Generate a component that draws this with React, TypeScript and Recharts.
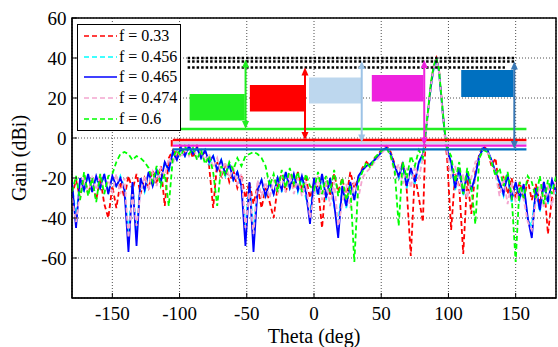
import React from 'react';
import {
  LineChart,
  Line,
  XAxis,
  YAxis,
  CartesianGrid,
  ReferenceLine,
  ReferenceArea,
  Legend,
} from 'recharts';

const FONT = "'Liberation Serif', 'Times New Roman', serif";

// Theta grid (deg)
const theta = [
  -180, -177, -174, -171, -168, -165, -162, -159, -156, -153,
  -150, -147, -144, -141, -138, -135, -132, -129, -126, -123,
  -120, -117, -114, -111, -108, -105, -102, -99, -96, -93,
  -90, -87, -84, -81, -78, -75, -72, -69, -66, -63,
  -60, -57, -54, -51, -48, -45, -42, -39, -36, -33,
  -30, -27, -24, -21, -18, -15, -12, -9, -6, -3,
  0, 3, 6, 9, 12, 15, 18, 21, 24, 27,
  30, 33, 36, 39, 42, 45, 48, 51, 54, 57,
  60, 63, 66, 69, 72, 75, 78,
  81, 83, 85, 87, 89, 91, 93, 95, 97, 99,
  102, 105, 108, 111, 114, 117, 120, 123, 126, 129,
  132, 135, 138, 141, 144, 147, 150, 153, 156, 159,
  162, 165, 168, 171, 174, 177, 180,
];

// Gain (dBi) per frequency
const gainF033 = [
  -29, -21, -30, -19, -28, -21, -31, -20, -33, -40,
  -24, -35, -22, -30, -19, -26, -18, -28, -20, -25,
  -16, -23, -14, -34, -10, -6, -9, -4, -8, -5,
  -10, -4, -9, -7, -14, -35, -12, -19, -14, -22,
  -16, -25, -19, -30, -22, -33, -24, -35, -25, -32,
  -40, -24, -18, -27, -19, -24, -17, -26, -20, -30,
  -22, -25, -45, -21, -29, -18, -27, -20, -30, -17,
  -25, -20, -15, -12, -14, -10, -8, -5, -4, -7,
  -13, -20, -12, -26, -59, -18, -30,
  -42, 1, 14, 27, 36, 40, 34, 19, 3, -10,
  -46, -18, -24, -58, -20, -38, -17, -8, -4, -6,
  -14, -10, -26, -19, -28, -20, -30, -22, -31, -21,
  -31, -23, -33, -22, -48, -30, -22,
];

const gainF0456 = [
  -23, -40, -21, -27, -19, -26, -20, -26, -19, -27,
  -20, -25, -19, -25, -48, -23, -47, -21, -27, -18,
  -24, -16, -23, -12, -17, -7, -11, -5, -9, -4,
  -8, -5, -10, -6, -13, -9, -16, -11, -19, -13,
  -21, -17, -25, -44, -23, -46, -26, -21, -30, -22,
  -28, -20, -27, -18, -25, -19, -27, -20, -30, -38,
  -21, -29, -19, -31, -21, -34, -42, -25, -35, -23,
  -31, -20, -16, -14, -13, -11, -9, -6, -5, -8,
  -14, -20, -13, -25, -16, -23, -13,
  -9, 2, 14, 26, 35, 40, 33, 18, 3, -6,
  -13, -26, -16, -29, -18, -27, -19, -9, -5, -6,
  -11, -17, -23, -29, -19, -32, -23, -31, -24, -41,
  -44, -26, -37, -23, -33, -22, -28,
];

const gainF0465 = [
  -22, -45, -20, -26, -18, -27, -19, -25, -18, -28,
  -19, -24, -20, -26, -57, -22, -54, -20, -26, -17,
  -24, -16, -22, -12, -16, -7, -11, -5, -9, -4,
  -8, -5, -10, -6, -12, -9, -16, -11, -18, -13,
  -21, -17, -24, -54, -22, -57, -26, -21, -29, -22,
  -28, -20, -26, -17, -25, -18, -26, -19, -27, -43,
  -20, -28, -18, -30, -20, -33, -50, -24, -34, -22,
  -31, -19, -16, -14, -13, -11, -9, -6, -5, -8,
  -14, -19, -13, -24, -15, -22, -12,
  -8, 2, 14, 26, 35, 40, 33, 18, 4, -6,
  -12, -25, -15, -28, -17, -26, -19, -9, -5, -6,
  -11, -17, -22, -28, -18, -31, -22, -30, -23, -40,
  -50, -25, -36, -22, -32, -21, -27,
];

const gainF0474 = [
  -30, -42, -27, -19, -28, -20, -26, -18, -27, -21,
  -27, -18, -28, -20, -50, -28, -44, -27, -19, -25,
  -17, -24, -15, -19, -10, -13, -6, -10, -5, -9,
  -4, -10, -6, -12, -8, -15, -10, -18, -12, -20,
  -15, -23, -18, -45, -27, -48, -21, -29, -22, -30,
  -21, -28, -19, -27, -18, -28, -20, -29, -22, -40,
  -29, -19, -31, -21, -34, -22, -44, -33, -23, -35,
  -22, -30, -20, -17, -15, -12, -10, -7, -5, -9,
  -18, -13, -23, -15, -25, -14, -20,
  -10, 2, 13, 26, 35, 40, 33, 17, 3, -7,
  -20, -14, -27, -18, -30, -20, -12, -10, -6, -6,
  -12, -18, -29, -20, -33, -22, -32, -24, -31, -42,
  -46, -32, -24, -35, -23, -34, -22,
];

const gainF06 = [
  -27, -19, -31, -17, -29, -20, -32, -18, -28, -19,
  -18, -12, -8, -7, -8, -11, -9, -10, -12, -15,
  -22, -14, -24, -18, -34, -10, -6, -9, -4, -8,
  -5, -11, -6, -13, -9, -17, -34, -14, -19, -12,
  -16, -10, -14, -9, -8, -7, -8, -10, -14, -24,
  -18, -27, -16, -25, -15, -23, -17, -27, -18, -24,
  -26, -17, -28, -19, -27, -16, -29, -20, -31, -24,
  -62, -22, -17, -12, -15, -10, -8, -6, -5, -9,
  -16, -44, -12, -20, -9, -14, -6,
  -10, 3, 15, 28, 36, 40, 34, 19, 5, -5,
  -9, -22, -12, -28, -15, -25, -43, -10, -6, -7,
  -12, -19, -15, -24, -17, -29, -62, -22, -30, -19,
  -22, -30, -19, -33, -21, -28, -19,
];

const seriesKeys = ['f033', 'f0456', 'f0465', 'f0474', 'f06'];
const seriesNames = ['f = 0.33', 'f = 0.456', 'f = 0.465', 'f = 0.474', 'f = 0.6'];
const seriesColors = ['#ff0000', '#00ffff', '#0000ff', '#f4a6cf', '#00ff00'];
const seriesDash = ['5 3', '5 3', '', '5 3', '5 3'];

const xTicks = [-150, -100, -50, 0, 50, 100, 150];
const yTicks = [-60, -40, -20, 0, 20, 40, 60];

// Annotation boxes
const boxThetaStart = [-92.5, -47.7, -3.7, 43, 109.5];
const boxThetaEnd = [-51.5, -6.7, 35.5, 81.4, 148.4];
const boxGainLow = [8.7, 13.2, 17.2, 18.2, 20.5];
const boxGainHigh = [22, 26.5, 30.3, 31.5, 34];
const boxColors = ['#22ee22', '#ff0000', '#bdd7ee', '#ee22dd', '#0070c0'];

// Double arrows
const arrowTheta = [-50.9, -6.7, 35.5, 82, 149];
const arrowTop = [39.3, 35.2, 38.5, 39, 38.2];
const arrowBottom = [4.5, -1, -2.3, -3.8, -5.5];
const arrowColors = ['#22ee22', '#ff0000', '#9dc3e6', '#ee22dd', '#3a78b5'];

// Level lines
const levelGain = [4.5, -1, -2.5, -3.8, -5.7];
const levelColors = ['#22ee22', '#ff0000', '#c9daf0', '#ee22dd', '#0070c0'];
const levelStart = -105;
const levelEnd = 158;

// Black dotted reference levels
const dottedGain = [40, 38.2, 35.2];
const dottedStart = -94;
const dottedEnd = [150, 150, 142];

const rows = theta.map((t, i) => ({
  theta: t,
  f033: gainF033[i],
  f0456: gainF0456[i],
  f0465: gainF0465[i],
  f0474: gainF0474[i],
  f06: gainF06[i],
}));

function makeArrow(color: string) {
  return (props: any) => {
    const { x1, y1, x2, y2 } = props;
    const top = Math.min(y1, y2);
    const bot = Math.max(y1, y2);
    const x = (x1 + x2) / 2;
    const h = 8;
    const w = 3.5;
    return (
      <g>
        <line x1={x} y1={top + h - 1} x2={x} y2={bot - h + 1} stroke={color} strokeWidth={2} />
        <polygon points={`${x},${top} ${x - w},${top + h} ${x + w},${top + h}`} fill={color} />
        <polygon points={`${x},${bot} ${x - w},${bot - h} ${x + w},${bot - h}`} fill={color} />
      </g>
    );
  };
}

const renderLegend = () => (
  <div
    style={{
      width: 104,
      height: 107,
      boxSizing: 'border-box',
      border: '1.5px solid #000',
      background: '#fff',
      fontFamily: FONT,
      fontSize: 16,
      color: '#000',
      paddingTop: 1,
    }}
  >
    {seriesNames.map((n, i) => (
      <div key={n} style={{ display: 'flex', alignItems: 'center', height: 20.6 }}>
        <svg width={36} height={6} style={{ marginLeft: 5, display: 'block' }}>
          <line
            x1={1}
            y1={3}
            x2={34}
            y2={3}
            stroke={seriesColors[i]}
            strokeWidth={1.6}
            strokeDasharray={seriesDash[i] || undefined}
          />
        </svg>
        <span style={{ lineHeight: '20px', whiteSpace: 'nowrap', fontFamily: FONT, fontSize: 16 }}>{n}</span>
      </div>
    ))}
  </div>
);

export default function App() {
  return (
    <div style={{ position: 'absolute', left: 0, top: 0, width: 558, height: 347, background: '#fff' }}>
      <LineChart width={558} height={347} data={rows} margin={{ top: 18, right: 2, left: 0, bottom: 0 }}>
        <CartesianGrid stroke="#222" strokeDasharray="1 2" strokeWidth={0.8} />
        <XAxis
          dataKey="theta"
          type="number"
          domain={[-180, 180]}
          ticks={xTicks}
          allowDataOverflow
          height={49}
          tickSize={-5}
          tickMargin={14}
          stroke="#000"
          tick={{ fill: '#000', fontSize: 19, fontFamily: FONT }}
          label={{ value: 'Theta (deg)', position: 'insideBottom', offset: 4, fill: '#000', fontSize: 20, fontFamily: FONT }}
        />
        <XAxis
          xAxisId="top"
          orientation="top"
          dataKey="theta"
          type="number"
          domain={[-180, 180]}
          ticks={xTicks}
          allowDataOverflow
          height={0}
          tickSize={-5}
          tick={false}
          stroke="#000"
        />
        <YAxis
          type="number"
          domain={[-80, 60]}
          ticks={yTicks}
          allowDataOverflow
          width={72}
          tickSize={-5}
          tickMargin={10.5}
          stroke="#000"
          tick={{ fill: '#000', fontSize: 19, fontFamily: FONT }}
          label={{
            value: 'Gain (dBi)',
            angle: -90,
            position: 'insideLeft',
            offset: 19,
            fill: '#000',
            fontSize: 20,
            fontFamily: FONT,
            style: { textAnchor: 'middle' },
          }}
        />
        <YAxis
          yAxisId="right"
          orientation="right"
          type="number"
          domain={[-80, 60]}
          ticks={yTicks}
          allowDataOverflow
          width={0}
          tickSize={-5}
          tick={false}
          stroke="#000"
        />
        {seriesKeys.map((k, i) => (
          <Line
            key={k}
            dataKey={k}
            name={seriesNames[i]}
            type="linear"
            stroke={seriesColors[i]}
            strokeWidth={1.8}
            strokeDasharray={seriesDash[i] || undefined}
            dot={false}
            activeDot={false}
            isAnimationActive={false}
          />
        ))}
        {boxColors.map((c, i) => (
          <ReferenceArea
            key={'box' + i}
            x1={boxThetaStart[i]}
            x2={boxThetaEnd[i]}
            y1={boxGainLow[i]}
            y2={boxGainHigh[i]}
            fill={c}
            fillOpacity={1}
            stroke="none"
          />
        ))}
        {dottedGain.map((g, i) => (
          <ReferenceLine
            key={'dot' + i}
            segment={[
              { x: dottedStart, y: g },
              { x: dottedEnd[i], y: g },
            ]}
            stroke="#000"
            strokeWidth={2.5}
            strokeDasharray="2.5 2"
          />
        ))}
        {levelColors.map((c, i) => (
          <ReferenceLine
            key={'lvl' + i}
            segment={[
              { x: levelStart, y: levelGain[i] },
              { x: levelEnd, y: levelGain[i] },
            ]}
            stroke={c}
            strokeWidth={2.4}
          />
        ))}
        <ReferenceLine
          segment={[
            { x: levelStart - 0.8, y: levelGain[1] },
            { x: levelStart - 0.8, y: -4.3 },
          ]}
          stroke="#ff0000"
          strokeWidth={2}
        />
        {arrowColors.map((c, i) => (
          <ReferenceLine
            key={'arr' + i}
            segment={[
              { x: arrowTheta[i], y: arrowTop[i] },
              { x: arrowTheta[i], y: arrowBottom[i] },
            ]}
            stroke={c}
            shape={makeArrow(c)}
          />
        ))}
        <ReferenceArea
          x1={-180}
          x2={180}
          y1={-80}
          y2={60}
          fill="none"
          fillOpacity={0}
          stroke="#000"
          strokeWidth={1.5}
          ifOverflow="visible"
        />
        <Legend
          layout="vertical"
          align="center"
          verticalAlign="middle"
          content={renderLegend}
          wrapperStyle={{ left: 77, top: 24, width: 104, height: 107 }}
        />
      </LineChart>
    </div>
  );
}
